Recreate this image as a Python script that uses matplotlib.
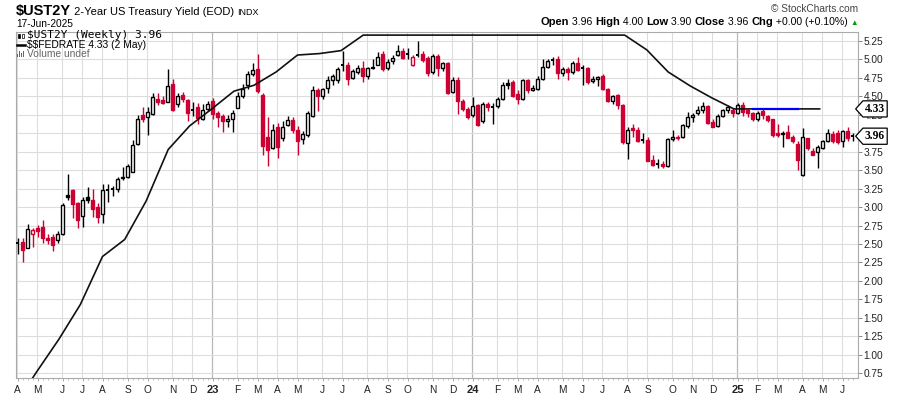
import numpy as np
import pandas as pd
import matplotlib
matplotlib.use('Agg')
import matplotlib.pyplot as plt
from matplotlib.patches import Rectangle
from matplotlib.path import Path
import matplotlib.transforms as mtrans
from matplotlib.lines import Line2D

plt.rcParams['text.parse_math'] = False

# ---------------- data ----------------
week_start = '2022-04-04'   # Monday of first weekly candle

opens = [2.50, 2.53, 2.45, 2.64, 2.72, 2.73, 2.575, 2.60, 2.55, 2.63,
         3.16, 3.23, 3.05, 2.88, 3.13, 3.10, 3.00, 2.90, 3.245, 3.245,
         3.24, 3.41, 3.41, 3.48, 3.85, 4.245, 4.215, 4.26, 4.46, 4.45,
         4.43, 4.67, 4.39, 4.52, 4.45, 4.32, 4.35, 4.20, 4.33, 4.44,
         4.27, 4.23, 4.16, 4.20, 4.34, 4.50, 4.65, 4.80, 4.87, 4.52,
         3.95, 3.80, 4.08, 3.93, 4.11, 4.18, 4.04, 3.92, 3.98, 4.23,
         4.59, 4.51, 4.61, 4.72, 4.72, 4.93, 4.925, 4.75, 4.83, 4.89,
         4.78, 4.88, 4.93, 5.08, 4.89, 4.98, 5.06, 5.11, 5.08, 4.92,
         5.07, 5.08, 5.02, 4.83, 5.05, 4.88, 4.95, 4.56, 4.72, 4.44,
         4.33, 4.25, 4.38, 4.17, 4.39, 4.355, 4.37, 4.47, 4.68, 4.69,
         4.53, 4.47, 4.72, 4.59, 4.60, 4.74, 4.90, 5.00, 5.00, 4.81,
         4.87, 4.83, 4.95, 4.89, 4.88, 4.71, 4.73, 4.77, 4.60, 4.44,
         4.52, 4.38, 3.87, 4.07, 4.05, 3.91, 3.91, 3.64, 3.59, 3.59,
         3.55, 3.92, 3.955, 3.95, 4.10, 4.22, 4.27, 4.31, 4.37, 4.15,
         4.10, 4.23, 4.31, 4.31, 4.27, 4.38, 4.31, 4.27, 4.20, 4.30,
         4.24, 4.19, 4.01, 3.985, 4.02, 3.95, 3.85, 3.44, 3.93, 3.76,
         3.74, 3.80, 3.895, 3.985, 4.00, 3.895, 4.03, 3.96]
highs = [2.58, 2.58, 2.77, 2.71, 2.76, 2.83, 2.64, 2.64, 2.67, 3.05,
         3.45, 3.25, 3.07, 3.14, 3.27, 3.25, 3.05, 3.31, 3.31, 3.28,
         3.41, 3.54, 3.59, 3.91, 4.25, 4.35, 4.36, 4.54, 4.54, 4.50,
         4.87, 4.73, 4.55, 4.56, 4.46, 4.43, 4.41, 4.40, 4.44, 4.48,
         4.30, 4.26, 4.25, 4.32, 4.56, 4.67, 4.85, 4.95, 5.07, 4.54,
         4.22, 4.13, 4.14, 4.16, 4.24, 4.22, 4.10, 4.03, 4.30, 4.64,
         4.61, 4.62, 4.78, 4.80, 4.90, 5.11, 4.97, 4.87, 4.92, 4.98,
         4.90, 5.00, 5.10, 5.12, 5.00, 5.06, 5.20, 5.15, 5.16, 5.06,
         5.25, 5.12, 5.05, 5.07, 5.07, 4.97, 4.97, 4.76, 4.76, 4.46,
         4.36, 4.49, 4.40, 4.42, 4.42, 4.41, 4.49, 4.70, 4.73, 4.72,
         4.58, 4.74, 4.74, 4.65, 4.78, 5.00, 5.01, 5.04, 5.05, 4.90,
         4.90, 4.98, 5.03, 4.92, 4.90, 4.78, 4.78, 4.80, 4.62, 4.52,
         4.53, 4.40, 4.08, 4.12, 4.08, 4.00, 3.95, 3.70, 3.65, 3.62,
         3.94, 4.05, 3.97, 4.12, 4.29, 4.28, 4.37, 4.42, 4.38, 4.20,
         4.26, 4.33, 4.38, 4.34, 4.41, 4.42, 4.33, 4.29, 4.30, 4.33,
         4.25, 4.20, 4.12, 4.03, 4.11, 3.98, 3.90, 4.07, 3.94, 3.80,
         3.84, 3.91, 4.06, 4.03, 4.04, 4.05, 4.08, 4.00]
lows = [2.37, 2.25, 2.44, 2.46, 2.60, 2.51, 2.50, 2.41, 2.51, 2.62,
        3.10, 2.85, 2.71, 2.73, 3.05, 2.87, 2.79, 2.79, 3.07, 3.15,
        3.21, 3.37, 3.40, 3.47, 3.84, 4.15, 3.98, 4.25, 4.38, 4.39,
        4.42, 4.30, 4.36, 4.42, 4.16, 4.24, 4.13, 4.18, 4.30, 4.20,
        4.09, 4.02, 4.09, 4.02, 4.34, 4.48, 4.60, 4.78, 4.55, 3.70,
        3.55, 3.78, 3.66, 3.90, 4.10, 4.00, 3.70, 3.85, 3.95, 4.22,
        4.30, 4.46, 4.55, 4.66, 4.68, 4.85, 4.65, 4.73, 4.80, 4.70,
        4.74, 4.87, 4.92, 4.84, 4.86, 4.94, 5.05, 5.00, 5.00, 4.91,
        5.03, 4.97, 4.78, 4.80, 4.78, 4.85, 4.53, 4.54, 4.26, 4.30,
        4.20, 4.22, 4.10, 4.14, 4.30, 4.12, 4.34, 4.45, 4.60, 4.49,
        4.40, 4.45, 4.55, 4.57, 4.58, 4.72, 4.88, 4.92, 4.74, 4.78,
        4.72, 4.80, 4.85, 4.65, 4.67, 4.68, 4.64, 4.58, 4.42, 4.40,
        4.33, 3.86, 3.65, 3.95, 3.88, 3.87, 3.62, 3.55, 3.53, 3.53,
        3.54, 3.90, 3.91, 3.94, 4.07, 4.15, 4.25, 4.28, 4.12, 4.08,
        4.08, 4.22, 4.28, 4.22, 4.26, 4.23, 4.22, 4.16, 4.16, 4.20,
        4.15, 3.95, 3.95, 3.82, 3.93, 3.87, 3.50, 3.42, 3.77, 3.70,
        3.53, 3.78, 3.88, 3.87, 3.86, 3.82, 3.90, 3.90]
closes = [2.51, 2.42, 2.70, 2.69, 2.675, 2.575, 2.55, 2.48, 2.64, 3.03,
          3.14, 3.04, 2.82, 3.10, 3.10, 2.97, 2.87, 3.23, 3.235, 3.24,
          3.375, 3.39, 3.55, 3.84, 4.20, 4.19, 4.29, 4.49, 4.42, 4.41,
          4.64, 4.31, 4.50, 4.46, 4.27, 4.31, 4.21, 4.315, 4.40, 4.26,
          4.225, 4.16, 4.19, 4.28, 4.50, 4.60, 4.80, 4.86, 4.57, 3.83,
          3.77, 4.05, 3.82, 4.09, 4.18, 4.05, 3.90, 3.985, 4.27, 4.59,
          4.50, 4.60, 4.72, 4.77, 4.87, 4.92, 4.74, 4.84, 4.88, 4.78,
          4.88, 4.90, 5.04, 4.87, 4.97, 5.02, 5.11, 5.02, 5.07, 5.04,
          5.06, 4.99, 4.81, 5.05, 4.88, 4.95, 4.55, 4.72, 4.44, 4.33,
          4.22, 4.37, 4.11, 4.39, 4.35, 4.35, 4.47, 4.65, 4.66, 4.50,
          4.47, 4.72, 4.59, 4.62, 4.74, 4.90, 4.98, 4.99, 4.81, 4.87,
          4.83, 4.95, 4.86, 4.88, 4.70, 4.74, 4.76, 4.60, 4.44, 4.51,
          4.38, 3.88, 4.05, 4.045, 3.90, 3.91, 3.63, 3.57, 3.58, 3.55,
          3.92, 3.95, 3.94, 4.11, 4.22, 4.25, 4.32, 4.37, 4.14, 4.09,
          4.23, 4.31, 4.35, 4.27, 4.38, 4.29, 4.27, 4.19, 4.28, 4.25,
          4.18, 3.98, 3.975, 4.01, 3.94, 3.89, 3.64, 3.95, 3.80, 3.71,
          3.82, 3.89, 4.00, 3.89, 3.885, 4.03, 3.94, 3.96]

fed_months = ['2022-04', '2022-05', '2022-06', '2022-07', '2022-08', '2022-09',
              '2022-10', '2022-11', '2022-12', '2023-01', '2023-02', '2023-03',
              '2023-04', '2023-05', '2023-06', '2023-07', '2023-08', '2023-09',
              '2023-10', '2023-11', '2023-12', '2024-01', '2024-02', '2024-03',
              '2024-04', '2024-05', '2024-06', '2024-07', '2024-08', '2024-09',
              '2024-10', '2024-11', '2024-12', '2025-01', '2025-02', '2025-03',
              '2025-04', '2025-05']
fed_rates = [0.33, 0.77, 1.21, 1.68, 2.33, 2.56, 3.08, 3.78, 4.10, 4.33, 4.57, 4.65,
             4.83, 5.06, 5.08, 5.12, 5.33, 5.33, 5.33, 5.33, 5.33, 5.33, 5.33, 5.33,
             5.33, 5.33, 5.33, 5.33, 5.33, 5.13, 4.83, 4.64, 4.48, 4.33, 4.33, 4.33,
             4.33, 4.33]

blue_dates = ['2025-01-27', '2025-03-31']
blue_vals = [4.33, 4.33]

y_ticks = [0.75, 1.00, 1.25, 1.50, 1.75, 2.00, 2.25, 2.50, 2.75, 3.00,
           3.25, 3.50, 3.75, 4.00, 4.25, 4.50, 4.75, 5.00, 5.25]
month_letters = ['J', 'F', 'M', 'A', 'M', 'J', 'J', 'A', 'S', 'O', 'N', 'D']

RED = '#cc0033'
BLACK = '#000000'
FONT = ['Liberation Sans', 'DejaVu Sans']

# ---------------- figure ----------------
W, H = 900, 396
fig = plt.figure(figsize=(W / 100, H / 100), dpi=100)
fig.patch.set_facecolor('white')

def px(x, y):
    return x / W, 1 - y / H

ax = fig.add_axes([16 / W, 18 / H, 842 / W, 346 / H])
n = len(closes)
ax.set_xlim(-0.3, n + 0.1)
ax.set_ylim(0.684, 5.372)

start = pd.Timestamp(week_start)
weeks = pd.date_range(start, periods=n, freq='7D')

# grid
ax.set_yticks(y_ticks)
ax.yaxis.tick_right()
ax.set_yticklabels(['%.2f' % v for v in y_ticks], fontsize=7.3, family=FONT, color='#222222')
ax.tick_params(axis='y', length=3, width=0.7, color='#888888', pad=1)
ax.grid(axis='y', color='#dddddd', lw=0.8, zorder=0)
ax.set_axisbelow(True)

month_pos, month_lab, is_year = [], [], []
prev_m = None
for i, d in enumerate(weeks):
    if d.month != prev_m:
        month_pos.append(i)
        if d.month == 1:
            month_lab.append('%02d' % (d.year % 100))
            is_year.append(True)
        else:
            month_lab.append(month_letters[d.month - 1])
            is_year.append(False)
        prev_m = d.month
for p, yr in zip(month_pos, is_year):
    ax.axvline(p - 0.15, color='#b8b8b8' if yr else '#dddddd', lw=0.9 if yr else 0.8, zorder=0)

ax.set_xticks(month_pos)
ax.set_xticklabels(month_lab, fontsize=7.3, family=FONT, color='#222222')
for lab, yr in zip(ax.get_xticklabels(), is_year):
    if yr:
        lab.set_fontweight('bold')
        lab.set_fontsize(8)
ax.tick_params(axis='x', length=2, width=0.6, color='#999999', pad=3)
ax.set_xticks(np.arange(n), minor=True)
ax.tick_params(axis='x', which='minor', length=1.2, width=0.5, color='#aaaaaa')

for s in ax.spines.values():
    s.set_color('#aaaaaa')
    s.set_linewidth(0.8)

# candles
w = 0.78
for i in range(n):
    o, h, l, c = opens[i], highs[i], lows[i], closes[i]
    up_vs_prev = True if i == 0 else c >= closes[i - 1]
    col = BLACK if up_vs_prev else RED
    ax.vlines(i, l, h, color=col, lw=1.0, zorder=2)
    lo, hi = min(o, c), max(o, c)
    if hi - lo < 0.012:
        ax.hlines(c, i - w / 2, i + w / 2, color=col, lw=1.4, zorder=3)
    else:
        filled = c < o
        ax.add_patch(Rectangle((i - w / 2, lo), w, hi - lo,
                               facecolor=col if filled else 'white',
                               edgecolor=col, lw=1.0, zorder=3))

# FEDRATE line
fed_x = [(pd.Timestamp(m + '-01') - start).days / 7 for m in fed_months]
ax.plot(fed_x, fed_rates, color='#111111', lw=1.2, zorder=4, clip_on=True)
blue_x = [(pd.Timestamp(d) - start).days / 7 for d in blue_dates]
ax.plot(blue_x, blue_vals, color='#0000ee', lw=1.6, zorder=5)

# price tags
def tag_box(x0, y0, width, height, mutation_size):
    pad = 0.18 * mutation_size
    x0 -= pad; y0 -= pad; width += 2 * pad; height += 2 * pad
    tip = height * 0.45
    verts = [(x0 - tip, y0 + height / 2), (x0, y0 + height), (x0 + width, y0 + height),
             (x0 + width, y0), (x0, y0), (x0 - tip, y0 + height / 2)]
    return Path(verts, closed=True)

blend = mtrans.blended_transform_factory(ax.transAxes, ax.transData)
for val in [fed_rates[-1], closes[-1]]:
    ax.text(1.0 + 7 / 842, val, '%.2f' % val, transform=blend, ha='left', va='center',
            fontsize=8.3, fontweight='bold', family=['Liberation Serif', 'DejaVu Serif'],
            color='black', zorder=10, clip_on=False,
            bbox=dict(boxstyle=tag_box, facecolor='white', edgecolor='black', lw=0.9))

# ---------------- header texts ----------------
renderer = fig.canvas.get_renderer()

def seg_line(x, y, segs, align='left'):
    texts = []
    cx = 0
    for s, kw in segs:
        t = fig.text(0, 0, s, va='baseline', ha='left', **kw)
        bb = t.get_window_extent(renderer)
        texts.append((t, cx))
        cx += bb.width
    x0 = x if align == 'left' else x - cx
    for t, off in texts:
        t.set_position(px(x0 + off, y))

seg_line(16, 15, [('$UST2Y', dict(fontsize=10.5, fontweight='bold', family=FONT)),
                  (' 2-Year US Treasury Yield (EOD) ', dict(fontsize=8, family=FONT)),
                  ('INDX', dict(fontsize=6.5, family=FONT))])
fig.text(*px(16, 27), '17-Jun-2025', fontsize=7.3, family=FONT, va='baseline')

fig.text(*px(858, 12), '\u00a9 StockCharts.com', fontsize=7.3, family=FONT,
         color='#444444', ha='right', va='baseline')
B = dict(fontsize=8, fontweight='bold', family=FONT)
N = dict(fontsize=7.6, family=FONT)
seg_line(858, 25, [('Open', B), (' 3.96 ', N), ('High', B), (' 4.00 ', N),
                   ('Low', B), (' 3.90 ', N), ('Close', B), (' 3.96 ', N),
                   ('Chg', B), (' +0.00 (+0.10%) ', N),
                   ('\u25b2', dict(fontsize=5.5, family=FONT, color='#00a000'))], align='right')

# legend inside plot
fig.text(*px(27, 38.5), '$UST2Y (Weekly) 3.96', fontsize=8.0, family=['DejaVu Sans Mono'],
         va='baseline')
fig.text(*px(27, 48), '$$FEDRATE 4.33 (2 May)', fontsize=7.4, family=FONT, va='baseline')
fig.text(*px(27, 57), 'Volume undef', fontsize=7.4, family=FONT, va='baseline', color='#666666')
# legend icons
fig.add_artist(Rectangle(px(17.5, 37.5), 2 / W, 4 / H, facecolor='black', edgecolor='black', lw=0.5))
fig.add_artist(Rectangle(px(21.5, 38), 2 / W, 4 / H, facecolor='white', edgecolor='black', lw=0.5))
fig.add_artist(Line2D([17 / W, 25 / W], [1 - 45 / H, 1 - 45 / H], color='black', lw=1.8))
for k, hgt in enumerate([3, 5, 4, 6]):
    fig.add_artist(Rectangle(px(17 + 2 * k, 56.5), 1.3 / W, hgt / H, facecolor='#666666', lw=0))

fig.savefig('out.png', dpi=100, facecolor='white')
